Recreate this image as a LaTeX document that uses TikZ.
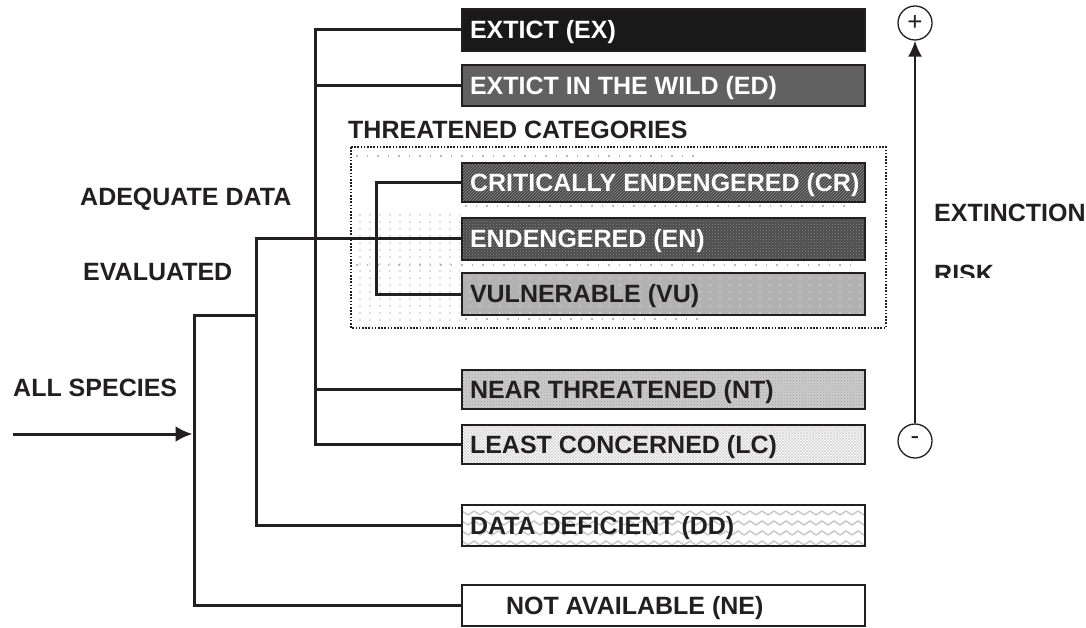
\documentclass[tikz,border=0pt]{standalone}
\usepackage{fontspec}
\setmainfont{Liberation Sans}
\usetikzlibrary{arrows.meta,patterns}
\definecolor{ink}{HTML}{231F20}
\pgfdeclarepatternformonly{zigzag}{\pgfqpoint{-1pt}{-1pt}}{\pgfqpoint{13pt}{11pt}}{\pgfqpoint{12pt}{10pt}}{%
 \pgfsetlinewidth{1.4pt}%
 \pgfpathmoveto{\pgfqpoint{0pt}{3pt}}%
 \pgfpathlineto{\pgfqpoint{6pt}{7pt}}%
 \pgfpathlineto{\pgfqpoint{12pt}{3pt}}%
 \pgfusepath{stroke}}
\pgfdeclarepatternformonly{sparsedots}{\pgfqpoint{-1pt}{-1pt}}{\pgfqpoint{1pt}{1pt}}{\pgfqpoint{10pt}{7pt}}{%
 \pgfpathcircle{\pgfpointorigin}{0.9pt}%
 \pgfusepath{fill}}
\newcommand\catfont{\fontsize{25}{29}\selectfont\bfseries}
\newcommand\signfont{\fontsize{26}{28}\selectfont}
\newcommand\bx[1]{\makebox[387pt][l]{#1}}
\tikzset{
 cat/.style={draw=ink, line width=2pt, minimum height=#1, minimum width=403pt,
   inner xsep=8pt, inner ysep=0pt, font=\catfont, text=ink,
   text height=17.5pt, text depth=0pt, anchor=north west},
 conn/.style={draw=ink, line width=3pt},
 lbl/.style={font=\catfont, text=ink, anchor=base west, inner sep=0pt},
 sign/.style={circle, draw=ink, line width=1.3pt, minimum size=34pt, inner sep=0pt, font=\signfont, text=ink},
 dotrow/.style={draw=black!28, line width=1.5pt, dash pattern=on 1.5pt off 9pt},
}
\begin{document}
\begin{tikzpicture}[x=1pt,y=-1pt]
\path[use as bounding box] (0,0) rectangle (1086,628);

% threatened group background
\fill[pattern=sparsedots, pattern color=black!25] (354,212) rectangle (460,326);
\draw[dotrow] (356,156) -- (700,156);
\draw[dotrow] (465,206) -- (845,206);
\draw[dotrow] (356,265) -- (860,265);
\draw[dotrow] (465,319) -- (700,319);
\draw[ink, line width=1.6pt, dash pattern=on 1.6pt off 1.6pt] (351,147) rectangle (886,328);

% category boxes
\node[cat=42pt, fill=black!90, text=white] (EX) at (461,8) {\bx{EXTICT (EX)}};
\node[cat=41pt, fill=black!62, text=white] (ED) at (461,64) {\bx{EXTICT IN THE WILD (ED)}};
\node[cat=39pt, preaction={fill=black!72}, pattern=north east lines, pattern color=black!45, text=white] (CR) at (461,162) {\bx{CRITICALLY ENDENGERED (CR)}};
\node[cat=42pt, preaction={fill=black!70}, pattern=crosshatch dots, pattern color=black!45, text=white] (EN) at (461,217) {\bx{ENDENGERED (EN)}};
\node[cat=42pt, preaction={fill=black!30}, pattern=sparsedots, pattern color=white!85!black] (VU) at (461,272) {\bx{VULNERABLE (VU)}};
\node[cat=39pt, preaction={fill=black!20}, pattern=crosshatch dots, pattern color=black!38] (NT) at (461,369) {\bx{NEAR THREATENED (NT)}};
\node[cat=39pt, preaction={fill=white}, pattern=crosshatch, pattern color=black!18] (LC) at (461,424) {\bx{LEAST CONCERNED (LC)}};
\node[cat=41pt, preaction={fill=white}, pattern=zigzag, pattern color=black!22] (DD) at (461,504) {\bx{DATA DEFICIENT (DD)}};
\node[cat=41pt, fill=white] (NE) at (461,584) {\bx{\hspace*{36pt}NOT AVAILABLE (NE)}};

% spine coordinates
\coordinate (sp1) at (194,0);
\coordinate (sp2) at (256,0);
\coordinate (sp3) at (315,0);
\coordinate (sp4) at (376,0);
\coordinate (j1) at (256,315);
\coordinate (start) at (13,434);

% connectors
\draw[conn] (EX.west) -| (sp3 |- LC.west) -- (LC.west);
\draw[conn] (ED.west) -- (sp3 |- ED.west);
\draw[conn] (NT.west) -- (sp3 |- NT.west);
\draw[conn] (CR.west) -| (sp4 |- VU.west) -- (VU.west);
\draw[conn] (EN.west) -| (sp2 |- DD.west) -- (DD.west);
\draw[conn] (j1) -| (sp1 |- NE.west) -- (NE.west);
\draw[conn, -{Latex[length=17pt,width=16pt]}] (start) -- ([xshift=-1.5pt]sp1 |- start);

% labels
\node[lbl] (adequate) at (80,206) {ADEQUATE DATA};
\node[lbl] (evaluated) at (83,280) {EVALUATED};
\node[lbl] (allsp) at (13,396) {ALL SPECIES};
\node[lbl] (threat) at (348,139) {THREATENED CATEGORIES};
\node[lbl] (extinction) at (934,222) {EXTINCTION};
\begin{scope}
\clip (928,250) rectangle (1086,277);
\node[lbl] (risk) at (934,283) {RISK};
\end{scope}

% risk axis
\node[sign] (plus) at (915,23) {+};
\node[sign] (minus) at (915,441) {-};
\draw[ink, line width=2.2pt, -{Latex[length=16pt,width=14pt]}] (minus) -- (plus);
\end{tikzpicture}
\end{document}
